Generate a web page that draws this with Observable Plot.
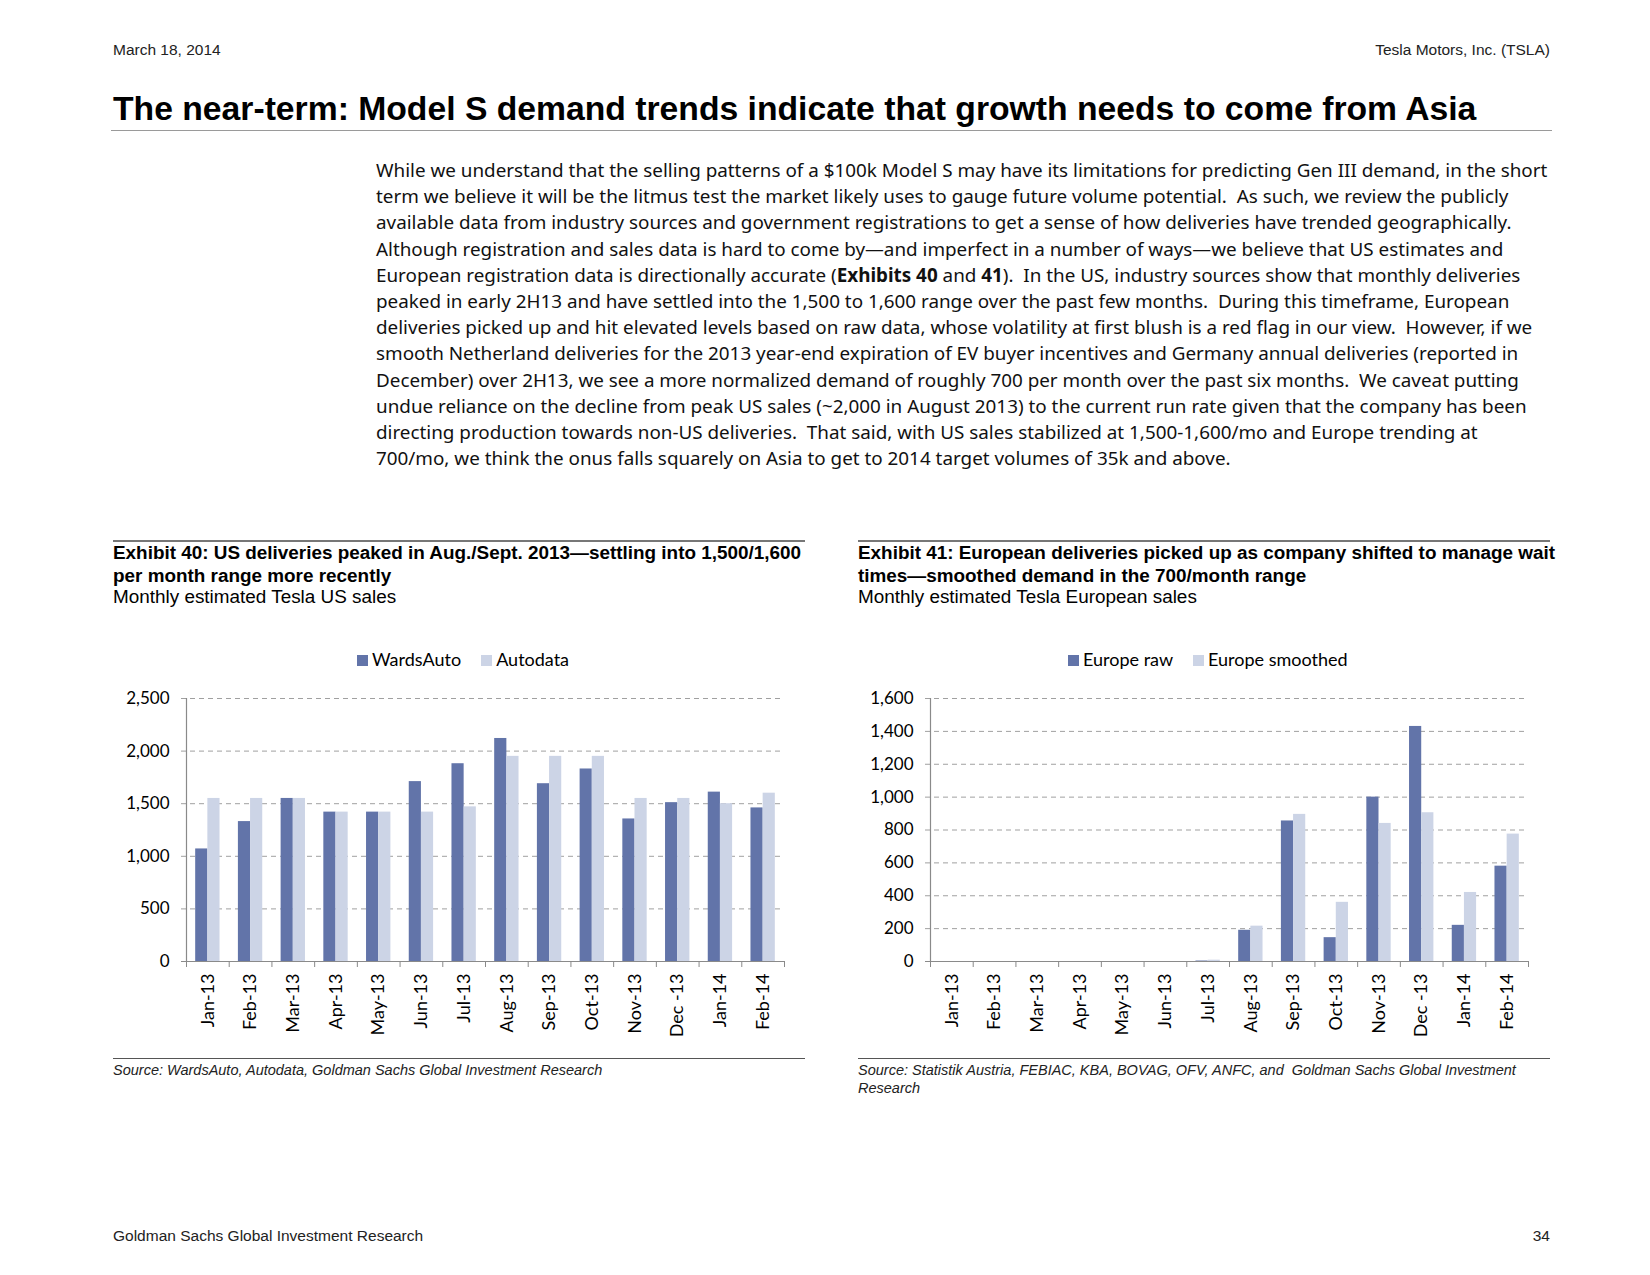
<!DOCTYPE html>
<html>
<head>
<meta charset="utf-8">
<script src="https://cdn.jsdelivr.net/npm/d3@7"></script>
<script src="https://cdn.jsdelivr.net/npm/@observablehq/plot@0.6"></script>
<style>
  html, body { margin: 0; padding: 0; background: #fff; }
  body { width: 1650px; height: 1275px; position: relative; overflow: hidden; color: #000; font-family: "Liberation Sans", Arial, sans-serif; }
  .abs { position: absolute; white-space: nowrap; }
  .hdr { font-size: 15.5px; line-height: 18px; color: #222; }
  .title { font-size: 33.7px; line-height: 38px; font-weight: bold; }
  .rule { position: absolute; height: 0; }
  .para { font-family: "Noto Sans", sans-serif; font-size: 18.85px; line-height: 26.2px; color: #111; }
  .ex-title { font-size: 18.9px; line-height: 23px; font-weight: bold; }
  .ex-sub { font-size: 18.9px; line-height: 22px; }
  .legend { font-family: "Lato", sans-serif; font-size: 18px; line-height: 22px; }
  .legend span.sw { display: inline-block; width: 11px; height: 11px; margin-right: 4px; vertical-align: 0px; }
  .legend span.item { margin-right: 20px; }
  .source { font-size: 14.5px; line-height: 17.5px; font-style: italic; color: #222; }
  .chart { position: absolute; }
</style>
</head>
<body>
<div id="page"></div>
<script>
// ---------------- data ----------------
const months = ["Jan-13","Feb-13","Mar-13","Apr-13","May-13","Jun-13","Jul-13","Aug-13","Sep-13","Oct-13","Nov-13","Dec -13","Jan-14","Feb-14"];
const wardsAuto = [1070,1330,1550,1420,1420,1710,1880,2120,1690,1830,1355,1510,1610,1460];
const autodata  = [1550,1550,1550,1420,1420,1420,1470,1950,1950,1950,1550,1550,1500,1600];
const europeRaw      = [0,0,0,0,0,0,3,190,855,145,1000,1430,220,580];
const europeSmoothed = [0,0,0,0,0,0,8,215,895,360,840,905,420,775];
const usTicks = [0,500,1000,1500,2000,2500];
const euTicks = [0,200,400,600,800,1000,1200,1400,1600];
const seriesUS = ["WardsAuto","Autodata"];
const seriesEU = ["Europe raw","Europe smoothed"];

const DARK = "#6274a9";
const LIGHT = "#ccd4e6";

const paragraph = [
  "While we understand that the selling patterns of a $100k Model S may have its limitations for predicting Gen III demand, in the short",
  "term we believe it will be the litmus test the market likely uses to gauge future volume potential.  As such, we review the publicly",
  "available data from industry sources and government registrations to get a sense of how deliveries have trended geographically.",
  "Although registration and sales data is hard to come by\u2014and imperfect in a number of ways\u2014we believe that US estimates and",
  "European registration data is directionally accurate (<b>Exhibits 40</b> and <b>41</b>).  In the US, industry sources show that monthly deliveries",
  "peaked in early 2H13 and have settled into the 1,500 to 1,600 range over the past few months.  During this timeframe, European",
  "deliveries picked up and hit elevated levels based on raw data, whose volatility at first blush is a red flag in our view.  However, if we",
  "smooth Netherland deliveries for the 2013 year-end expiration of EV buyer incentives and Germany annual deliveries (reported in",
  "December) over 2H13, we see a more normalized demand of roughly 700 per month over the past six months.  We caveat putting",
  "undue reliance on the decline from peak US sales (~2,000 in August 2013) to the current run rate given that the company has been",
  "directing production towards non-US deliveries.  That said, with US sales stabilized at 1,500-1,600/mo and Europe trending at",
  "700/mo, we think the onus falls squarely on Asia to get to 2014 target volumes of 35k and above."
];

// ---------------- page text ----------------
const page = document.getElementById("page");
function add(html, cls, style) {
  const d = document.createElement("div");
  d.className = "abs " + cls;
  d.innerHTML = html;
  Object.assign(d.style, style);
  page.appendChild(d);
  return d;
}
function rule(left, top, width, color, thick) {
  const d = document.createElement("div");
  d.className = "rule";
  Object.assign(d.style, {left: left + "px", top: top + "px", width: width + "px", borderTop: thick + "px solid " + color});
  page.appendChild(d);
}

add("March 18, 2014", "hdr", {left: "113px", top: "41px"});
add("Tesla Motors, Inc. (TSLA)", "hdr", {right: "100px", top: "41px"});
add("The near-term: Model S demand trends indicate that growth needs to come from Asia", "title", {left: "113px", top: "89px"});
rule(111, 130, 1441, "#9a9a9a", 1.5);

add(paragraph.map(l => l.replace(/  /g, " &nbsp;")).join("<br>"), "para", {left: "376px", top: "157px"});

// Exhibit 40 block
rule(113, 540, 692, "#777", 2);
add("Exhibit 40: US deliveries peaked in Aug./Sept. 2013\u2014settling into 1,500/1,600<br>per month range more recently", "ex-title", {left: "113px", top: "541px"});
add("Monthly estimated Tesla US sales", "ex-sub", {left: "113px", top: "586px"});
rule(113, 1058, 692, "#555", 1);
add("Source: WardsAuto, Autodata, Goldman Sachs Global Investment Research", "source", {left: "113px", top: "1062px"});

// Exhibit 41 block
rule(858, 540, 692, "#777", 2);
add("Exhibit 41: European deliveries picked up as company shifted to manage wait<br>times\u2014smoothed demand in the 700/month range", "ex-title", {left: "858px", top: "541px"});
add("Monthly estimated Tesla European sales", "ex-sub", {left: "858px", top: "586px"});
rule(858, 1058, 692, "#555", 1);
add("Source: Statistik Austria, FEBIAC, KBA, BOVAG, OFV, ANFC, and &nbsp;Goldman Sachs Global Investment<br>Research", "source", {left: "858px", top: "1062px"});

add("Goldman Sachs Global Investment Research", "hdr", {left: "113px", top: "1227px"});
add("34", "hdr", {right: "100px", top: "1227px"});

// legends
function legend(names, left) {
  const colors = [DARK, LIGHT];
  add(names.map((n, i) => `<span class="item"><span class="sw" style="background:${colors[i]}"></span>${n}</span>`).join(""), "legend", {left: left + "px", top: "648px"});
}
legend(seriesUS, 357);
legend(seriesEU, 1068);

// ---------------- charts ----------------
function chart(values1, values2, ticks, left) {
  const W = 692, H = 370, mL = 72, mR = 22, mT = 18, mB = 89;
  const bw = (W - mL - mR) / months.length;
  const barW = bw * 0.285;
  const off = (bw - 2 * barW) / 2;
  const data = months.map((m, i) => ({month: m, a: values1[i], b: values2[i]}));
  const plotH = H - mT - mB;
  const svg = Plot.plot({
    width: W, height: H, marginLeft: mL, marginRight: mR, marginTop: mT, marginBottom: mB,
    style: {fontFamily: "Lato, sans-serif", fontSize: "17px", color: "#000", background: "transparent"},
    x: {domain: months, padding: 0, round: false, axis: null},
    y: {domain: [0, ticks[ticks.length - 1]], axis: null},
    marks: [
      Plot.ruleY(ticks.slice(1), {stroke: "#a0a0a0", strokeDasharray: "5,4", strokeWidth: 1, insetLeft: -5}),
      Plot.barY(data, {x: "month", y: "a", fill: DARK, insetLeft: off, insetRight: bw - off - barW}),
      Plot.barY(data, {x: "month", y: "b", fill: LIGHT, insetLeft: off + barW, insetRight: off}),
      Plot.ruleY([0], {stroke: "#8a8a8a", strokeWidth: 1.2, insetLeft: -5}),
      Plot.ruleX(months, {x: d => d, dx: -bw / 2, stroke: "#8a8a8a", insetTop: plotH, insetBottom: -6}),
      Plot.ruleX([months[months.length - 1]], {x: d => d, dx: bw / 2, stroke: "#8a8a8a", insetTop: plotH, insetBottom: -6}),
      Plot.ruleX([months[0]], {x: d => d, dx: -bw / 2, stroke: "#8a8a8a", strokeWidth: 1.2}),
      Plot.axisY(ticks, {tickSize: 0, tickPadding: 17, tickFormat: d3.format(","), label: null, fontSize: 17}),
      Plot.axisX(months, {tickSize: 0, tickPadding: 12, tickRotate: -90, label: null, fontSize: 18})
    ]
  });
  svg.classList.add("chart");
  svg.style.left = left + "px";
  svg.style.top = "680px";
  page.appendChild(svg);
}
chart(wardsAuto, autodata, usTicks, 114);
chart(europeRaw, europeSmoothed, euTicks, 858);
</script>
</body>
</html>
